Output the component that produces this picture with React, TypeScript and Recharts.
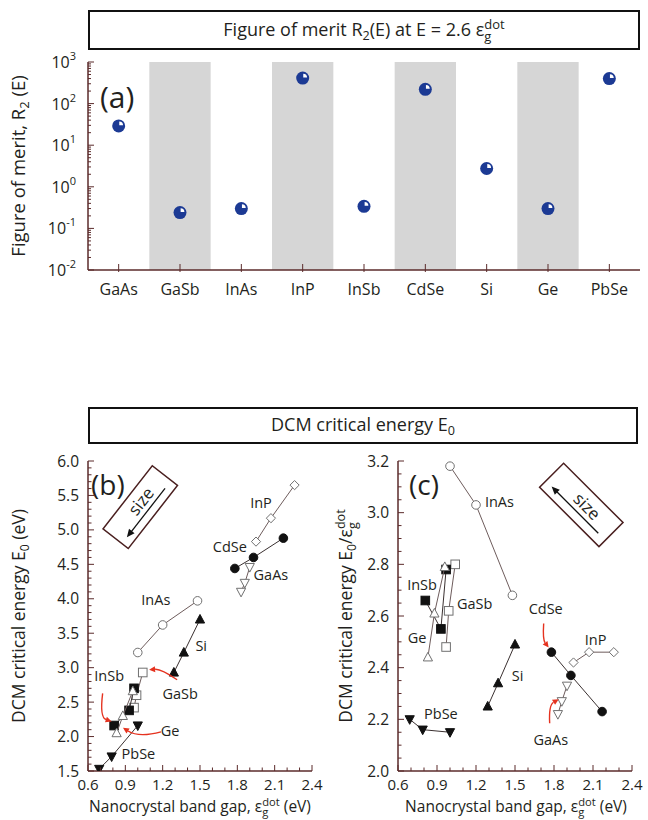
import React from 'react';
import { ScatterChart, Scatter, XAxis, YAxis, ReferenceArea, ReferenceDot } from 'recharts';

const FONT = '"Open Sans", "Noto Sans", "DejaVu Sans", sans-serif';
const TXT = '#231f20';
const FRAME = '#5b2b2b';
const BAND = '#d6d6d6';
const SPHERE = '#1c3a94';
const RED = '#e5321f';
const LINE_GRAY = '#6e5c5c';

// ---------------- Panel (a) data ----------------
const materialsA = ['GaAs', 'GaSb', 'InAs', 'InP', 'InSb', 'CdSe', 'Si', 'Ge', 'PbSe'];
const meritR2 = [29, 0.24, 0.3, 410, 0.34, 220, 2.75, 0.3, 400];
const shadedA = ['GaSb', 'InP', 'CdSe', 'Ge'];
const meritDecades = [0.01, 0.1, 1, 10, 100, 1000];

// ---------------- Panels (b), (c) data ----------------
const egMajorTicks = [0.6, 0.9, 1.2, 1.5, 1.8, 2.1, 2.4];
const e0MajorTicks = [1.5, 2.0, 2.5, 3.0, 3.5, 4.0, 4.5, 5.0, 5.5, 6.0];
const ratioMajorTicks = [2.0, 2.2, 2.4, 2.6, 2.8, 3.0, 3.2];

// band gaps (eV) of the three dot sizes
const egInP = [1.95, 2.07, 2.26];
const egCdSe = [1.78, 1.93, 2.17];
const egGaAs = [1.83, 1.86, 1.9];
const egInAs = [1.0, 1.2, 1.48];
const egSi = [1.29, 1.37, 1.5];
const egGaSb = [0.97, 0.99, 1.04];
const egInSb = [0.81, 0.93, 0.97];
const egGe = [0.83, 0.88, 0.96];
const egPbSe = [0.69, 0.79, 1.0];

// DCM critical energy E0 (eV) — panel (b)
const e0InP = [4.83, 5.17, 5.65];
const e0CdSe = [4.44, 4.6, 4.88];
const e0GaAs = [4.1, 4.23, 4.46];
const e0InAs = [3.22, 3.62, 3.97];
const e0Si = [2.93, 3.22, 3.7];
const e0GaSb = [2.42, 2.6, 2.93];
const e0InSb = [2.16, 2.38, 2.7];
const e0Ge = [2.05, 2.3, 2.66];
const e0PbSe = [1.53, 1.71, 2.16];

// E0 / eg ratio — panel (c)
const ratioInP = [2.42, 2.46, 2.46];
const ratioCdSe = [2.46, 2.37, 2.23];
const ratioGaAs = [2.22, 2.27, 2.33];
const ratioInAs = [3.18, 3.03, 2.68];
const ratioSi = [2.25, 2.34, 2.49];
const ratioGaSb = [2.48, 2.62, 2.8];
const ratioInSb = [2.66, 2.55, 2.78];
const ratioGe = [2.44, 2.61, 2.79];
const ratioPbSe = [2.2, 2.16, 2.15];

const materialsBC = ['InP', 'CdSe', 'GaAs', 'InAs', 'Si', 'GaSb', 'InSb', 'Ge', 'PbSe'];
const egTable: Record<string, number[]> = { InP: egInP, CdSe: egCdSe, GaAs: egGaAs, InAs: egInAs, Si: egSi, GaSb: egGaSb, InSb: egInSb, Ge: egGe, PbSe: egPbSe };
const e0Table: Record<string, number[]> = { InP: e0InP, CdSe: e0CdSe, GaAs: e0GaAs, InAs: e0InAs, Si: e0Si, GaSb: e0GaSb, InSb: e0InSb, Ge: e0Ge, PbSe: e0PbSe };
const ratioTable: Record<string, number[]> = { InP: ratioInP, CdSe: ratioCdSe, GaAs: ratioGaAs, InAs: ratioInAs, Si: ratioSi, GaSb: ratioGaSb, InSb: ratioInSb, Ge: ratioGe, PbSe: ratioPbSe };

const markerStyle: Record<string, { kind: string; filled: boolean }> = {
  InP: { kind: 'diamond', filled: false },
  CdSe: { kind: 'circle', filled: true },
  GaAs: { kind: 'down', filled: false },
  InAs: { kind: 'circle', filled: false },
  Si: { kind: 'up', filled: true },
  GaSb: { kind: 'square', filled: false },
  InSb: { kind: 'square', filled: true },
  Ge: { kind: 'up', filled: false },
  PbSe: { kind: 'down', filled: true },
};

// annotation labels (data coordinates)
const labelsB = [
  { text: 'InP', x: 1.99, y: 5.39 },
  { text: 'CdSe', x: 1.74, y: 4.75 },
  { text: 'GaAs', x: 2.07, y: 4.34 },
  { text: 'InAs', x: 1.145, y: 3.98 },
  { text: 'Si', x: 1.51, y: 3.32 },
  { text: 'InSb', x: 0.77, y: 2.88 },
  { text: 'GaSb', x: 1.34, y: 2.62 },
  { text: 'Ge', x: 1.26, y: 2.08 },
  { text: 'PbSe', x: 1.005, y: 1.75 },
];
const labelsC = [
  { text: 'InAs', x: 1.38, y: 3.043 },
  { text: 'InSb', x: 0.785, y: 2.72 },
  { text: 'GaSb', x: 1.19, y: 2.645 },
  { text: 'CdSe', x: 1.736, y: 2.629 },
  { text: 'Ge', x: 0.747, y: 2.514 },
  { text: 'InP', x: 2.12, y: 2.506 },
  { text: 'Si', x: 1.52, y: 2.367 },
  { text: 'PbSe', x: 0.93, y: 2.22 },
  { text: 'GaAs', x: 1.775, y: 2.12 },
];
// red arrows: tip in data coords, start / control offsets in px relative to tip
const arrowsB = [
  { x: 0.79, y: 2.22, sx: -9, sy: -28, qx: -12, qy: -4 },
  { x: 1.091, y: 2.97, sx: 28, sy: 10, qx: 12, qy: -1 },
  { x: 0.881, y: 2.127, sx: 38, sy: 4, qx: 16, qy: 10 },
];
const arrowsC = [
  { x: 1.759, y: 2.478, sx: -5, sy: -24, qx: -6, qy: -8 },
  { x: 1.836, y: 2.278, sx: -9, sy: 24, qx: -10, qy: 6 },
];

// ---------------- helpers ----------------
const stepTicks = (lo: number, hi: number, step: number) => {
  const out: number[] = [];
  const n = Math.round((hi - lo) / step);
  for (let i = 0; i <= n; i++) out.push(Math.round((lo + i * step) * 1000) / 1000);
  return out;
};
const logTicks = (() => {
  const out: number[] = [];
  for (let d = 0; d < meritDecades.length - 1; d++) {
    for (let k = 1; k <= 9; k++) out.push(Number((meritDecades[d] * k).toPrecision(3)));
  }
  out.push(meritDecades[meritDecades.length - 1]);
  return out;
})();
const near = (v: number, arr: number[]) => arr.some((a) => Math.abs(a - v) < 1e-6 * Math.max(1, Math.abs(a)));

const egTicks = stepTicks(0.6, 2.4, 0.1);
const e0Ticks = stepTicks(1.5, 6.0, 0.1);
const ratioTicks = stepTicks(2.0, 3.2, 0.05);
const catTicks = materialsA.map((_, i) => i + 0.5);

const dataA = materialsA.map((m, i) => ({ x: i + 0.5, y: meritR2[i], name: m }));
const seriesB = materialsBC.map((m) => ({ name: m, data: egTable[m].map((x, i) => ({ x, y: e0Table[m][i] })) }));
const seriesC = materialsBC.map((m) => ({ name: m, data: egTable[m].map((x, i) => ({ x, y: ratioTable[m][i] })) }));

// ---------------- tick renderers ----------------
const bottomTick = (majors: number[], fmt: (v: number) => string, fs: number, dy: number, majLen = 6, minLen = 3.5) => (p: any) => {
  const { x, y, payload } = p;
  const v = payload.value;
  const M = near(v, majors);
  return (
    <g>
      <line x1={x} y1={y} x2={x} y2={y - (M ? majLen : minLen)} stroke={FRAME} strokeWidth={1} />
      {M && (
        <text x={x} y={y + dy} textAnchor="middle" fontSize={fs} fill={TXT} fontFamily={FONT}>
          {fmt(v)}
        </text>
      )}
    </g>
  );
};
const topTick = (majors: number[], majLen = 6, minLen = 3.5) => (p: any) => {
  const { x, y, payload } = p;
  const M = near(payload.value, majors);
  return <line x1={x} y1={y} x2={x} y2={y + (M ? majLen : minLen)} stroke={FRAME} strokeWidth={1} />;
};
const leftTick = (majors: number[], fmt: (v: number) => string, fs: number) => (p: any) => {
  const { x, y, payload } = p;
  const v = payload.value;
  const M = near(v, majors);
  return (
    <g>
      <line x1={x} y1={y} x2={x + (M ? 6 : 3.5)} y2={y} stroke={FRAME} strokeWidth={1} />
      {M && (
        <text x={x - 9} y={y + 5.5} textAnchor="end" fontSize={fs} fill={TXT} fontFamily={FONT}>
          {fmt(v)}
        </text>
      )}
    </g>
  );
};
const rightTick = (majors: number[]) => (p: any) => {
  const { x, y, payload } = p;
  const M = near(payload.value, majors);
  return <line x1={x} y1={y} x2={x - (M ? 6 : 3.5)} y2={y} stroke={FRAME} strokeWidth={1} />;
};
const logLeftTick = (p: any) => {
  const { x, y, payload } = p;
  const v = payload.value;
  const M = near(v, meritDecades);
  const exp = Math.round(Math.log10(v));
  return (
    <g>
      <line x1={x} y1={y} x2={x + (M ? 6 : 3)} y2={y} stroke={FRAME} strokeWidth={1} />
      {M && (
        <text x={x - 12} y={y + 6} textAnchor="end" fontSize={16} fill={TXT} fontFamily={FONT}>
          <tspan>10</tspan>
          <tspan dy={-8} fontSize={11}>{String(exp)}</tspan>
        </text>
      )}
    </g>
  );
};
const catBottomTick = (p: any) => {
  const { x, y, payload } = p;
  const label = materialsA[Math.floor(payload.value)];
  return (
    <g>
      <line x1={x} y1={y + 2} x2={x} y2={y - 6} stroke={FRAME} strokeWidth={1} />
      <text x={x} y={y + 25} textAnchor="middle" fontSize={16} fill={TXT} fontFamily={FONT}>
        {label}
      </text>
    </g>
  );
};

// ---------------- markers ----------------
function Marker({ cx, cy, kind, filled }: { cx: number; cy: number; kind: string; filled: boolean }) {
  const fill = filled ? '#111' : '#fff';
  const stroke = filled ? '#111' : '#707070';
  const sw = 1;
  if (kind === 'circle') return <circle cx={cx} cy={cy} r={4.3} fill={fill} stroke={stroke} strokeWidth={sw} />;
  if (kind === 'square') return <rect x={cx - 4.3} y={cy - 4.3} width={8.6} height={8.6} fill={fill} stroke={stroke} strokeWidth={sw} />;
  if (kind === 'diamond')
    return <polygon points={`${cx},${cy - 4.6} ${cx + 4.6},${cy} ${cx},${cy + 4.6} ${cx - 4.6},${cy}`} fill={fill} stroke={stroke} strokeWidth={sw} />;
  if (kind === 'up')
    return <polygon points={`${cx},${cy - 5} ${cx + 4.6},${cy + 3.6} ${cx - 4.6},${cy + 3.6}`} fill={fill} stroke={stroke} strokeWidth={sw} />;
  return <polygon points={`${cx},${cy + 5} ${cx + 4.6},${cy - 3.6} ${cx - 4.6},${cy - 3.6}`} fill={fill} stroke={stroke} strokeWidth={sw} />;
}

function Sphere({ cx, cy }: { cx: number; cy: number }) {
  const r = 6.5;
  const h = 3.8;
  return (
    <g>
      <circle cx={cx} cy={cy} r={r} fill={SPHERE} />
      <path d={`M${cx + 0.6},${cy - 0.6} L${cx + 0.6},${cy - 0.6 - h} A${h},${h} 0 0 1 ${cx + 0.6 + h},${cy - 0.6} Z`} fill="#fff" />
    </g>
  );
}

const labelShape = (text: string) => (p: any) => (
  <text x={p.cx} y={p.cy + 5} textAnchor="middle" fontSize={14.5} fill={TXT} fontFamily={FONT}>
    {text}
  </text>
);

const arrowShape = (a: { sx: number; sy: number; qx: number; qy: number }) => (p: any) => {
  const { cx, cy } = p;
  const ang = Math.atan2(-a.qy, -a.qx);
  const L = 6;
  const Wd = 3;
  const bx = cx - L * Math.cos(ang);
  const by = cy - L * Math.sin(ang);
  const px = -Math.sin(ang) * Wd;
  const py = Math.cos(ang) * Wd;
  return (
    <g>
      <path d={`M${cx + a.sx},${cy + a.sy} Q${cx + a.qx},${cy + a.qy} ${bx},${by}`} fill="none" stroke={RED} strokeWidth={1.4} />
      <polygon points={`${cx},${cy} ${bx + px},${by + py} ${bx - px},${by - py}`} fill={RED} />
    </g>
  );
};

const sizeBoxShape = (rot: number, L: number, Wd: number) => (p: any) => {
  const { cx, cy } = p;
  return (
    <g transform={`translate(${cx},${cy}) rotate(${rot})`}>
      <rect x={-L / 2} y={-Wd / 2} width={L} height={Wd} fill="#fff" stroke="#4a1f1f" strokeWidth={1.5} />
      <text x={5} y={3} textAnchor="middle" fontSize={17} fill={TXT} fontFamily={FONT}>
        size
      </text>
      <line x1={L / 2 - 10} y1={8} x2={-L / 2 + 14} y2={8} stroke="#111" strokeWidth={1.3} />
      <polygon points={`${-L / 2 + 8},8 ${-L / 2 + 16},4.5 ${-L / 2 + 16},11.5`} fill="#111" />
    </g>
  );
};

// ---------------- text helpers ----------------
const Sub = ({ children }: { children: React.ReactNode }) => (
  <span style={{ fontSize: '0.7em', position: 'relative', top: '0.3em' }}>{children}</span>
);
const EpsDot = () => (
  <span>
    ε
    <span style={{ display: 'inline-block', verticalAlign: '-0.36em', fontSize: '0.72em', lineHeight: 0.92, textAlign: 'left' }}>
      <span style={{ display: 'block' }}>dot</span>
      <span style={{ display: 'block' }}>g</span>
    </span>
  </span>
);
function RotLabel({ cx, cy, size, children }: { cx: number; cy: number; size: number; children: React.ReactNode }) {
  return (
    <div
      style={{
        position: 'absolute',
        left: cx,
        top: cy,
        transform: 'translate(-50%,-50%) rotate(-90deg)',
        whiteSpace: 'nowrap',
        fontSize: size,
        lineHeight: 1.2,
      }}
    >
      {children}
    </div>
  );
}

const BC_TOP = 440;
const BC_H = 380;
const BC_PLOT_TOP = 461;
const BC_PLOT_BOTTOM = 771;

function PanelBC({ series, yDomain, yTicks, yMajors, yFmt, labels, arrows, sizeBox, width, yAxisW, rightM }: any) {
  return (
    <ScatterChart width={width} height={BC_H} margin={{ top: BC_PLOT_TOP - BC_TOP, right: rightM, left: 0, bottom: 0 }}>
      <XAxis
        dataKey="x"
        type="number"
        domain={[0.6, 2.4]}
        allowDataOverflow
        ticks={egTicks}
        interval={0}
        height={BC_TOP + BC_H - BC_PLOT_BOTTOM}
        tickSize={0}
        tickMargin={0}
        tickLine={false}
        axisLine={{ stroke: FRAME, strokeWidth: 1.5 }}
        tick={bottomTick(egMajorTicks, (v) => v.toFixed(1), 15, 19)}
      />
      <XAxis
        xAxisId="top"
        orientation="top"
        dataKey="x"
        type="number"
        domain={[0.6, 2.4]}
        allowDataOverflow
        ticks={egTicks}
        interval={0}
        height={0}
        tickSize={0}
        tickMargin={0}
        tickLine={false}
        axisLine={{ stroke: FRAME, strokeWidth: 1.5 }}
        tick={topTick(egMajorTicks)}
      />
      <YAxis
        dataKey="y"
        type="number"
        domain={yDomain}
        allowDataOverflow
        ticks={yTicks}
        interval={0}
        width={yAxisW}
        tickSize={0}
        tickMargin={0}
        tickLine={false}
        axisLine={{ stroke: FRAME, strokeWidth: 1.5 }}
        tick={leftTick(yMajors, yFmt, 15.5)}
      />
      <YAxis
        yAxisId="right"
        orientation="right"
        dataKey="y"
        type="number"
        domain={yDomain}
        allowDataOverflow
        ticks={yTicks}
        interval={0}
        width={0}
        tickSize={0}
        tickMargin={0}
        tickLine={false}
        axisLine={{ stroke: FRAME, strokeWidth: 1.5 }}
        tick={rightTick(yMajors)}
      />
      <Scatter xAxisId="top" yAxisId="right" data={series[0].data} shape={() => <g />} isAnimationActive={false} />
      {series.map((s: any) => {
        const st = markerStyle[s.name];
        return (
          <Scatter
            key={s.name}
            name={s.name}
            data={s.data}
            line={{ stroke: st.filled ? '#3a3030' : LINE_GRAY, strokeWidth: 1 }}
            lineType="joint"
            isAnimationActive={false}
            shape={(p: any) => <Marker cx={p.cx} cy={p.cy} kind={st.kind} filled={st.filled} />}
          />
        );
      })}
      {labels.map((l: any) => (
        <ReferenceDot key={'l' + l.text} x={l.x} y={l.y} r={0} ifOverflow="visible" shape={labelShape(l.text)} />
      ))}
      {arrows.map((a: any, i: number) => (
        <ReferenceDot key={'a' + i} x={a.x} y={a.y} r={0} ifOverflow="visible" shape={arrowShape(a)} />
      ))}
      <ReferenceDot x={sizeBox.x} y={sizeBox.y} r={0} ifOverflow="visible" shape={sizeBoxShape(sizeBox.rot, sizeBox.L, sizeBox.W)} />
    </ScatterChart>
  );
}

export default function App() {
  return (
    <div
      style={{
        position: 'absolute',
        left: 0,
        top: 0,
        width: 648,
        height: 820,
        background: '#fff',
        fontFamily: FONT,
        color: TXT,
        overflow: 'hidden',
      }}
    >
      {/* Panel (a) title box */}
      <div
        style={{
          position: 'absolute',
          left: 88,
          top: 10,
          width: 552,
          height: 40,
          boxSizing: 'border-box',
          border: '2px solid #111',
          textAlign: 'center',
          fontSize: 18,
          lineHeight: '34px',
          whiteSpace: 'nowrap',
        }}
      >
        Figure of merit R<Sub>2</Sub>(E) at E = 2.6 <EpsDot />
      </div>

      {/* Panel (a) chart */}
      <div style={{ position: 'absolute', left: 0, top: 0 }}>
        <ScatterChart width={648} height={310} margin={{ top: 62, right: 8, left: 0, bottom: 0 }}>
          {materialsA.map((m, i) =>
            shadedA.includes(m) ? (
              <ReferenceArea key={m} x1={i} x2={i + 1} fill={BAND} fillOpacity={1} stroke="none" ifOverflow="hidden" />
            ) : null
          )}
          <XAxis
            dataKey="x"
            type="number"
            domain={[0, materialsA.length]}
            allowDataOverflow
            ticks={catTicks}
            interval={0}
            height={40}
            tickSize={0}
            tickMargin={0}
            tickLine={false}
            axisLine={{ stroke: FRAME, strokeWidth: 1.5 }}
            tick={catBottomTick}
          />
          <XAxis
            xAxisId="top"
            orientation="top"
            dataKey="x"
            type="number"
            domain={[0, materialsA.length]}
            allowDataOverflow
            ticks={catTicks}
            interval={0}
            height={0}
            tickSize={0}
            tickMargin={0}
            tickLine={false}
            axisLine={{ stroke: FRAME, strokeWidth: 1.5 }}
            tick={topTick(catTicks, 8, 8)}
          />
          <YAxis
            dataKey="y"
            type="number"
            scale="log"
            domain={[0.01, 1000]}
            allowDataOverflow
            ticks={logTicks}
            interval={0}
            width={88}
            tickSize={0}
            tickMargin={0}
            tickLine={false}
            axisLine={{ stroke: FRAME, strokeWidth: 1.5 }}
            tick={logLeftTick}
          />
          <YAxis
            yAxisId="right"
            orientation="right"
            dataKey="y"
            type="number"
            scale="log"
            domain={[0.01, 1000]}
            allowDataOverflow
            ticks={logTicks}
            interval={0}
            width={0}
            tickSize={0}
            tickMargin={0}
            tickLine={false}
            axisLine={{ stroke: FRAME, strokeWidth: 1.5 }}
            tick={rightTick(meritDecades)}
          />
          <Scatter xAxisId="top" yAxisId="right" data={dataA} shape={() => <g />} isAnimationActive={false} />
          <Scatter data={dataA} isAnimationActive={false} shape={(p: any) => <Sphere cx={p.cx} cy={p.cy} />} />
        </ScatterChart>
      </div>

      <div style={{ position: 'absolute', left: 100, top: 82, fontSize: 30, lineHeight: 1 }}>(a)</div>
      <RotLabel cx={18} cy={166} size={18.5}>
        Figure of merit, R<Sub>2</Sub> (E)
      </RotLabel>

      {/* Panels (b),(c) title box */}
      <div
        style={{
          position: 'absolute',
          left: 88,
          top: 407,
          width: 550,
          height: 37,
          boxSizing: 'border-box',
          border: '2px solid #111',
          textAlign: 'center',
          fontSize: 18,
          lineHeight: '31px',
          whiteSpace: 'nowrap',
        }}
      >
        DCM critical energy E<Sub>0</Sub>
      </div>

      {/* Panel (b) */}
      <div style={{ position: 'absolute', left: 0, top: BC_TOP }}>
        <PanelBC
          series={seriesB}
          yDomain={[1.5, 6.0]}
          yTicks={e0Ticks}
          yMajors={e0MajorTicks}
          yFmt={(v: number) => v.toFixed(1)}
          labels={labelsB}
          arrows={arrowsB}
          sizeBox={{ x: 1.02, y: 5.33, rot: -52, L: 80, W: 32 }}
          width={335}
          yAxisW={88}
          rightM={23}
        />
      </div>
      <div style={{ position: 'absolute', left: 91, top: 470, fontSize: 28, lineHeight: 1 }}>(b)</div>
      <RotLabel cx={18} cy={616} size={17.5}>
        DCM critical energy E<Sub>0</Sub> (eV)
      </RotLabel>
      <div
        style={{
          position: 'absolute',
          left: 200,
          top: 797,
          transform: 'translateX(-50%)',
          whiteSpace: 'nowrap',
          fontSize: 15.5,
          lineHeight: 1.1,
        }}
      >
        Nanocrystal band gap, <EpsDot /> (eV)
      </div>

      {/* Panel (c) */}
      <div style={{ position: 'absolute', left: 320, top: BC_TOP }}>
        <PanelBC
          series={seriesC}
          yDomain={[2.0, 3.2]}
          yTicks={ratioTicks}
          yMajors={ratioMajorTicks}
          yFmt={(v: number) => v.toFixed(1)}
          labels={labelsC}
          arrows={arrowsC}
          sizeBox={{ x: 2.01, y: 3.03, rot: 45, L: 84, W: 34 }}
          width={328}
          yAxisW={78}
          rightM={16}
        />
      </div>
      <div style={{ position: 'absolute', left: 409, top: 470, fontSize: 28, lineHeight: 1 }}>(c)</div>
      <RotLabel cx={347} cy={616} size={17.5}>
        DCM critical energy E<Sub>0</Sub>/<EpsDot />
      </RotLabel>
      <div
        style={{
          position: 'absolute',
          left: 516,
          top: 797,
          transform: 'translateX(-50%)',
          whiteSpace: 'nowrap',
          fontSize: 15.5,
          lineHeight: 1.1,
        }}
      >
        Nanocrystal band gap, <EpsDot /> (eV)
      </div>
    </div>
  );
}
